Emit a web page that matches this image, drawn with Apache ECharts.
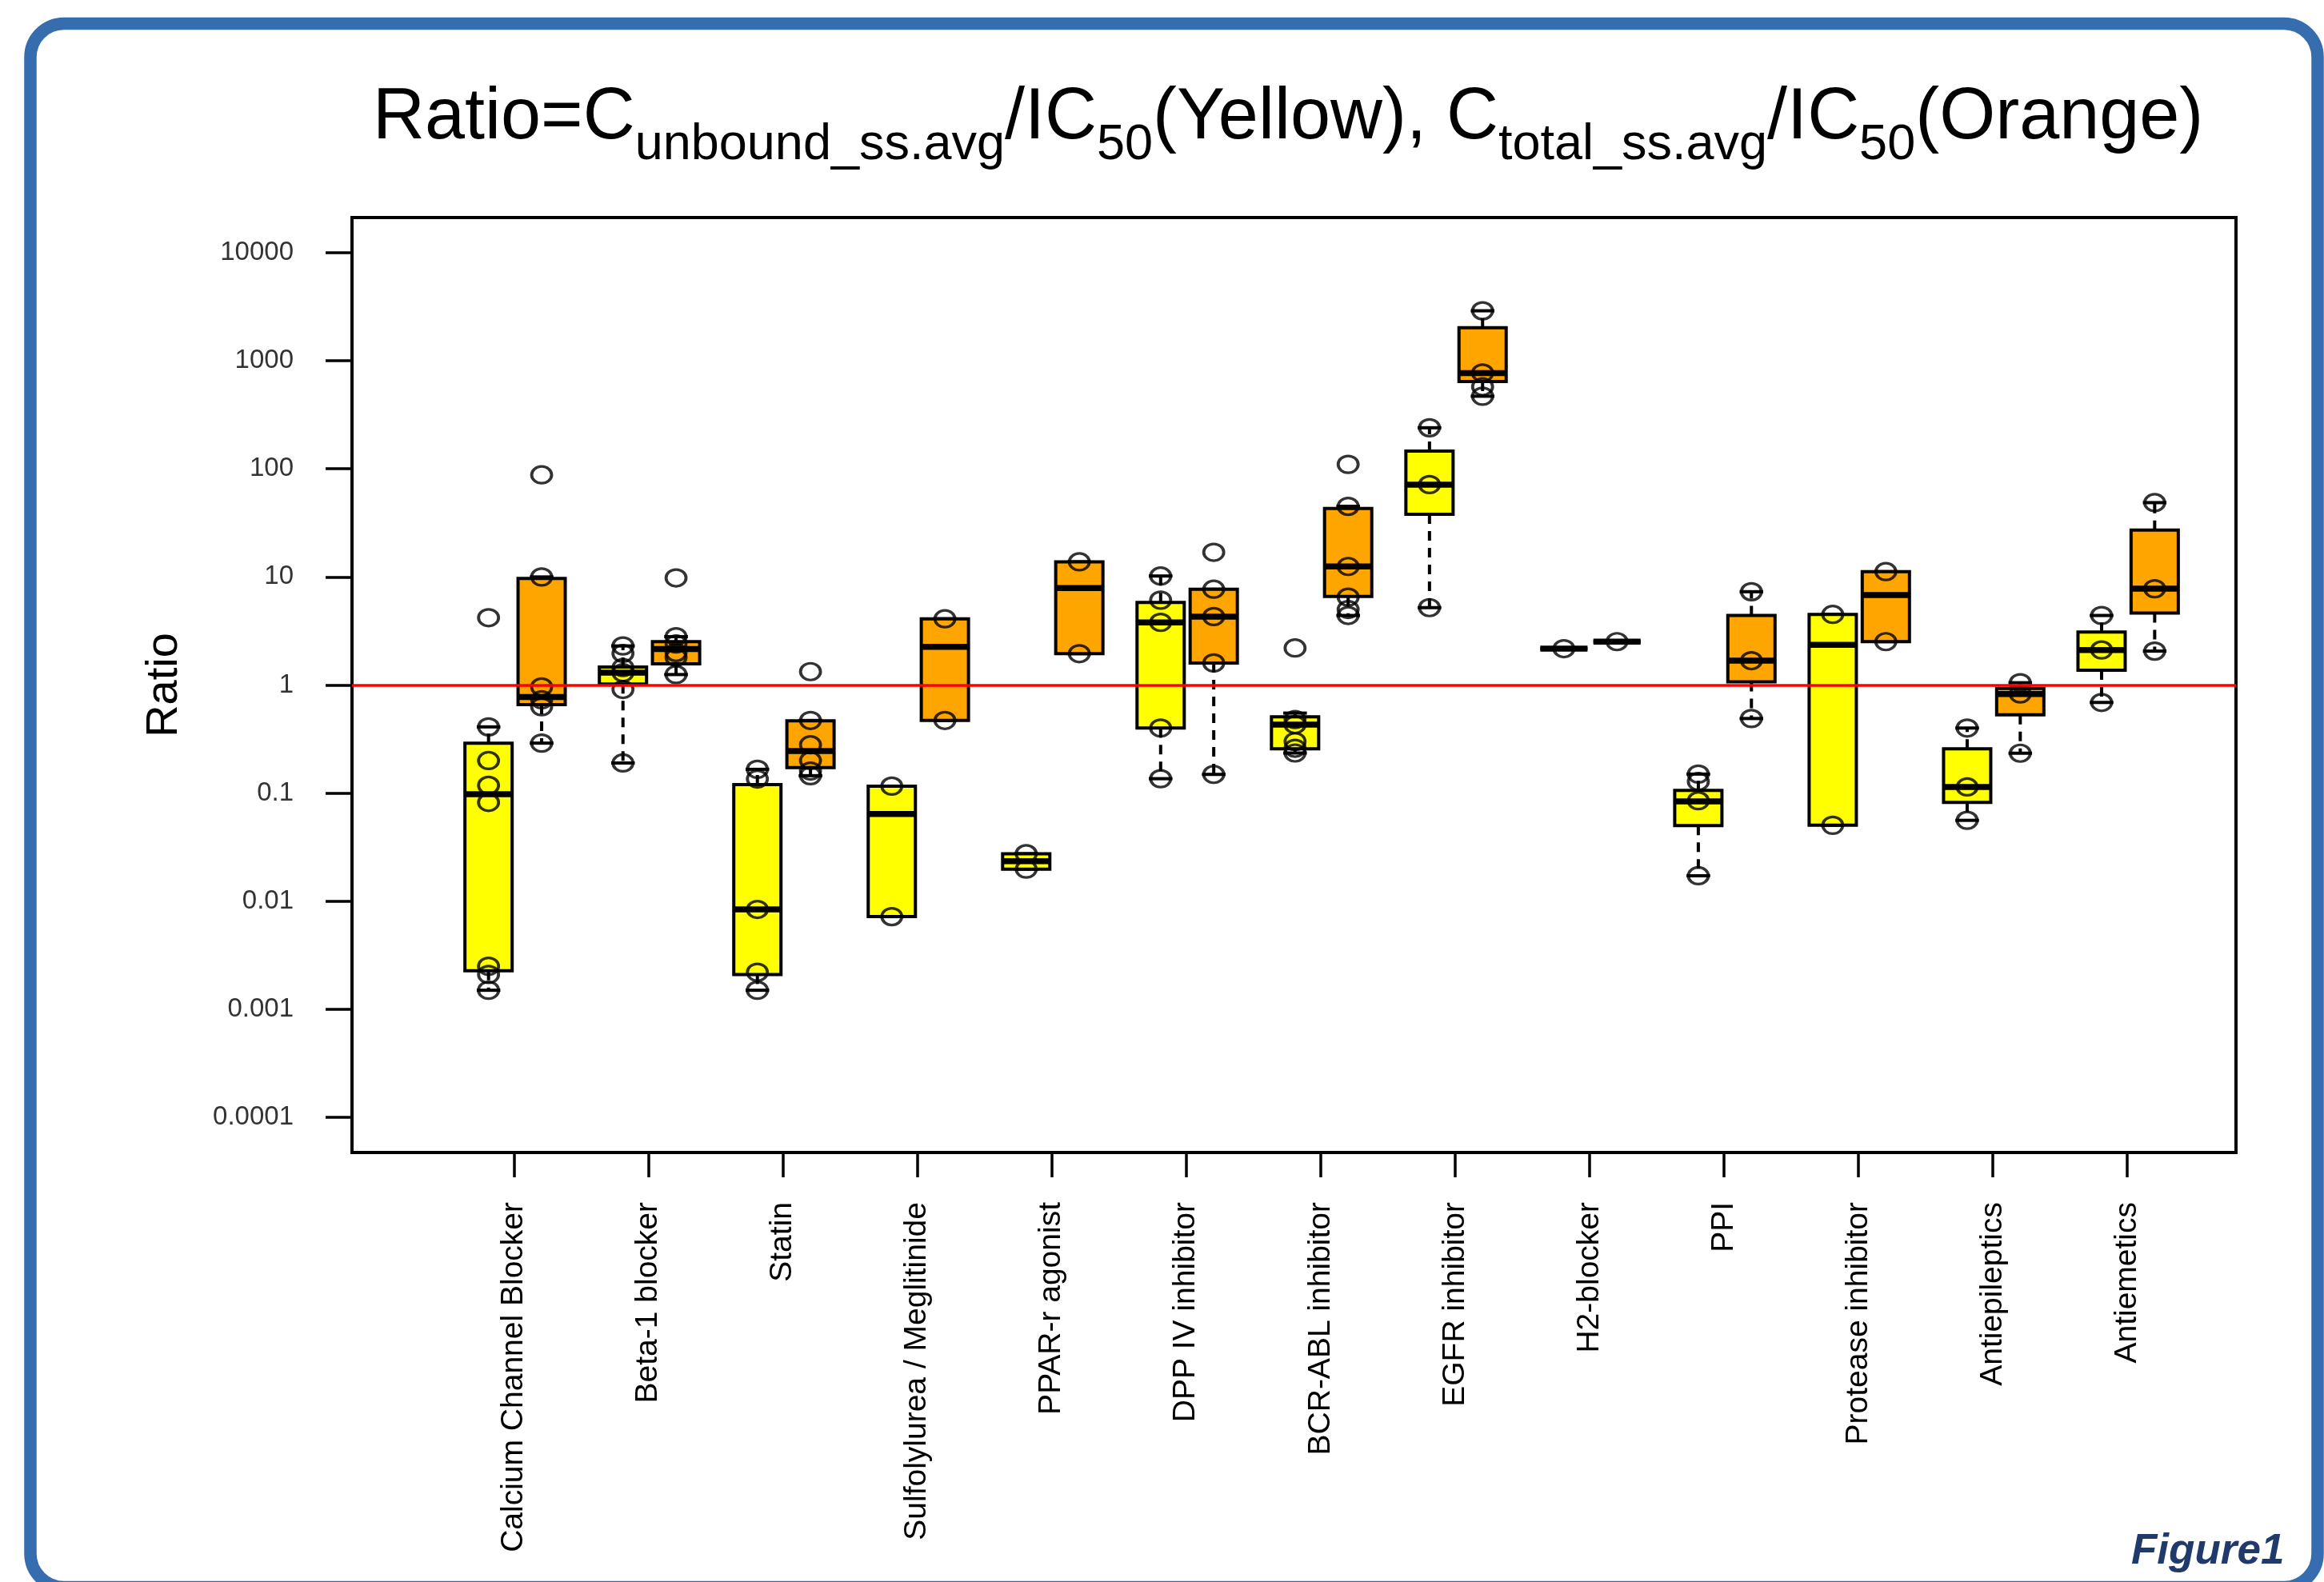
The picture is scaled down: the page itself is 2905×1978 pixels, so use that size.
<!DOCTYPE html>
<html><head><meta charset="utf-8">
<script src="https://cdn.jsdelivr.net/npm/echarts@6/dist/echarts.min.js"></script>
<style>html,body{margin:0;padding:0;background:#fff}#c{width:2905px;height:1978px}</style>
</head><body><div id="c"></div>
<script>
// ---------- data (ratio values) ----------
const categories = ['Calcium Channel Blocker','Beta-1 blocker','Statin','Sulfolylurea / Meglitinide','PPAR-r agonist','DPP IV inhibitor','BCR-ABL inhibitor','EGFR inhibitor','H2-blocker','PPI','Protease inhibitor','Antiepileptics','Antiemetics'];
const tickLabels = ['0.0001','0.001','0.01','0.1','1','10','100','1000','10000'];

// box statistics [min, Q1, median, Q3, max]  (unbound = yellow)
const yellowStats = [
  [0.0015, 0.00227, 0.0977, 0.29, 0.41],
  [0.19, 1.02, 1.3, 1.47, 2.3],
  [0.0015, 0.0021, 0.0084, 0.12, 0.166],
  [0.0072, 0.0072, 0.064, 0.116, 0.116],
  [0.0198, 0.0198, 0.0235, 0.0275, 0.0275],
  [0.136, 0.40, 3.8, 5.8, 10.2],
  [0.235, 0.257, 0.43, 0.507, 0.55],
  [5.2, 38, 71.5, 146, 240],
  [2.17, 2.17, 2.17, 2.17, 2.17],
  [0.0172, 0.05, 0.084, 0.106, 0.15],
  [0.0504, 0.0504, 2.35, 4.5, 4.5],
  [0.056, 0.082, 0.114, 0.257, 0.40],
  [0.69, 1.37, 2.11, 3.09, 4.4]
];
// total = orange
const orangeStats = [
  [0.29, 0.66, 0.776, 9.7, 10.0],
  [1.25, 1.57, 2.15, 2.52, 2.8],
  [0.145, 0.172, 0.245, 0.466, 0.47],
  [0.47, 0.47, 2.26, 4.1, 4.1],
  [1.95, 1.95, 7.9, 13.8, 13.8],
  [0.149, 1.6, 4.3, 7.7, 7.7],
  [4.4, 6.6, 12.5, 43, 45],
  [470, 644, 768, 2018, 2900],
  [2.52, 2.52, 2.52, 2.52, 2.52],
  [0.49, 1.07, 1.68, 4.4, 7.3],
  [2.52, 2.52, 6.8, 11.2, 11.2],
  [0.234, 0.53, 0.826, 0.93, 1.05],
  [2.06, 4.64, 7.78, 27.2, 48.7]
];
// individual drugs (open circles)
const yellowPoints = [
  [4.2, 0.41, 0.2, 0.118, 0.082, 0.0025, 0.0021, 0.0015],
  [2.3, 1.96, 1.45, 1.3, 0.91, 0.19],
  [0.166, 0.135, 0.0084, 0.0022, 0.0015],
  [0.116, 0.0072],
  [0.0275, 0.0198],
  [10.2, 6.1, 3.8, 0.40, 0.136],
  [2.2, 0.48, 0.43, 0.3, 0.26, 0.235],
  [240, 71.5, 5.2],
  [2.17],
  [0.15, 0.128, 0.085, 0.0172],
  [4.5, 0.0504],
  [0.40, 0.114, 0.056],
  [4.4, 2.11, 0.69]
];
const orangePoints = [
  [88, 10.0, 0.96, 0.73, 0.63, 0.29],
  [9.8, 2.8, 2.4, 2.0, 1.8, 1.25],
  [1.33, 0.47, 0.28, 0.2, 0.16, 0.145],
  [4.1, 0.47],
  [13.8, 1.95],
  [16.9, 7.7, 4.3, 1.6, 0.149],
  [110, 45, 12.5, 6.5, 5.0, 4.4],
  [2900, 770, 575, 470],
  [2.52],
  [7.3, 1.68, 0.49],
  [11.2, 2.52],
  [1.05, 0.826, 0.234],
  [48.7, 7.78, 2.06]
];
const refRatio = 1;

// ---------- helpers ----------
const L = Math.log10;
const HW = 0.1756, OFF_Y = -0.19, OFF_O = 0.205;
const X_MIN = -0.2058, X_MAX = 13.81, Y_LIM = 4.325;
const tickVals = tickLabels.map(s => L(Number(s)));
const catVals = categories.map((c, i) => i + 1);

function boxData(stats, off) { return stats.map((s, i) => [i + 1 + off].concat(s.map(L))); }
function ptData(pts, off) {
  const out = [];
  pts.forEach((arr, i) => arr.forEach(v => out.push([i + 1 + off, L(v)])));
  return out;
}
function renderBox(fill) {
  return function (params, api) {
    const x = api.value(0), mn = api.value(1), q1 = api.value(2), md = api.value(3), q3 = api.value(4), mx = api.value(5);
    const c = (xx, yy) => api.coord([xx, yy]);
    const pTL = c(x - HW, q3), pBR = c(x + HW, q1);
    const pMin = c(x, mn), pQ1 = c(x, q1), pQ3 = c(x, q3), pMax = c(x, mx);
    const mL = c(x - HW, md), mR = c(x + HW, md);
    const sw = HW * 0.5;
    const sL = c(x - sw, mn)[0], sR = c(x + sw, mn)[0];
    const K = '#000';
    const ch = [];
    if (pMax[1] < pQ3[1] - 0.5)
      ch.push({ type: 'line', shape: { x1: pQ3[0], y1: pQ3[1], x2: pMax[0], y2: pMax[1] }, style: { stroke: K, lineWidth: 4, lineDash: [12, 9] } });
    if (pMin[1] > pQ1[1] + 0.5)
      ch.push({ type: 'line', shape: { x1: pQ1[0], y1: pQ1[1], x2: pMin[0], y2: pMin[1] }, style: { stroke: K, lineWidth: 4, lineDash: [12, 9] } });
    ch.push({ type: 'line', shape: { x1: sL, y1: pMax[1], x2: sR, y2: pMax[1] }, style: { stroke: K, lineWidth: 4 } });
    ch.push({ type: 'line', shape: { x1: sL, y1: pMin[1], x2: sR, y2: pMin[1] }, style: { stroke: K, lineWidth: 4 } });
    ch.push({ type: 'rect', shape: { x: pTL[0], y: pTL[1], width: pBR[0] - pTL[0], height: pBR[1] - pTL[1] }, style: { fill: fill, stroke: K, lineWidth: 4 } });
    ch.push({ type: 'line', shape: { x1: mL[0], y1: mL[1], x2: mR[0], y2: mR[1] }, style: { stroke: K, lineWidth: 7.5 } });
    return { type: 'group', children: ch };
  };
}

const FONT = 'Liberation Sans, Arial, Helvetica, sans-serif';
const pointStyle = { color: 'rgba(0,0,0,0)', borderColor: '#000', borderWidth: 3.5 };

const chart = echarts.init(document.getElementById('c'), null, { renderer: 'canvas' });
chart.setOption({
  animation: false,
  backgroundColor: '#fff',
  textStyle: { fontFamily: FONT },
  title: {
    left: 466, top: 103, padding: 0,
    text: '{m|Ratio=C}{s|unbound_ss.avg}{m|/IC}{s|50}{m|(Yellow), C}{s|total_ss.avg}{m|/IC}{s|50}{m|(Orange)}',
    textStyle: {
      fontWeight: 'normal',
      rich: {
        m: { fontSize: 90, fontWeight: 'normal', fontFamily: FONT, color: '#000', lineHeight: 90, verticalAlign: 'top' },
        s: { fontSize: 63, fontWeight: 'normal', fontFamily: FONT, color: '#000', lineHeight: 110, verticalAlign: 'bottom' }
      }
    }
  },
  grid: { left: 440, right: 110, top: 272, bottom: 537, show: true, borderColor: '#000', borderWidth: 4, backgroundColor: 'transparent' },
  xAxis: {
    type: 'value', min: X_MIN, max: X_MAX,
    axisLine: { show: false, onZero: false },
    splitLine: { show: false },
    axisTick: { show: true, length: 31, lineStyle: { color: '#000', width: 3.5 }, customValues: catVals },
    axisLabel: {
      customValues: catVals, rotate: 90, margin: 62, fontSize: 39, color: '#000', fontFamily: FONT,
      formatter: v => categories[Math.round(v) - 1] || ''
    }
  },
  yAxis: {
    type: 'value', min: -Y_LIM, max: Y_LIM,
    name: 'Ratio', nameLocation: 'middle', nameGap: 206, nameRotate: 90,
    nameTextStyle: { fontSize: 56, color: '#000', fontFamily: FONT },
    axisLine: { show: false, onZero: false },
    splitLine: { show: false },
    axisTick: { show: true, length: 33, lineStyle: { color: '#000', width: 3.5 }, customValues: tickVals },
    axisLabel: {
      customValues: tickVals, margin: 73, fontSize: 33, color: '#333', fontFamily: FONT,
      formatter: v => tickLabels[Math.round(v) + 4]
    }
  },
  series: [
    { type: 'custom', name: 'unbound', renderItem: renderBox('#ffff00'), data: boxData(yellowStats, OFF_Y), encode: { x: 0, y: [1, 2, 3, 4, 5] }, z: 2, silent: true },
    { type: 'custom', name: 'total', renderItem: renderBox('#ffa500'), data: boxData(orangeStats, OFF_O), encode: { x: 0, y: [1, 2, 3, 4, 5] }, z: 2, silent: true },
    { type: 'scatter', data: ptData(yellowPoints, OFF_Y), symbol: 'circle', symbolSize: [25, 21], itemStyle: pointStyle, z: 3, silent: true },
    { type: 'scatter', data: ptData(orangePoints, OFF_O), symbol: 'circle', symbolSize: [25, 21], itemStyle: pointStyle, z: 3, silent: true },
    { type: 'line', data: [], z: 5, silent: true,
      markLine: { silent: true, symbol: 'none', label: { show: false }, lineStyle: { color: '#ff0000', width: 3.5, type: 'solid' }, data: [{ yAxis: L(refRatio) }] } }
  ],
  graphic: [
    { type: 'rect', shape: { x: 38, y: 29.5, width: 2859, height: 1955, r: 42 }, style: { fill: 'none', stroke: '#356daf', lineWidth: 15.5 }, silent: true, z: 100 },
    { type: 'text', x: 2664, y: 1940, style: { text: 'Figure1', font: 'italic bold 53px Liberation Sans, Arial, sans-serif', fill: '#1f3a6b', verticalAlign: 'middle' }, silent: true }
  ]
});
</script></body></html>
